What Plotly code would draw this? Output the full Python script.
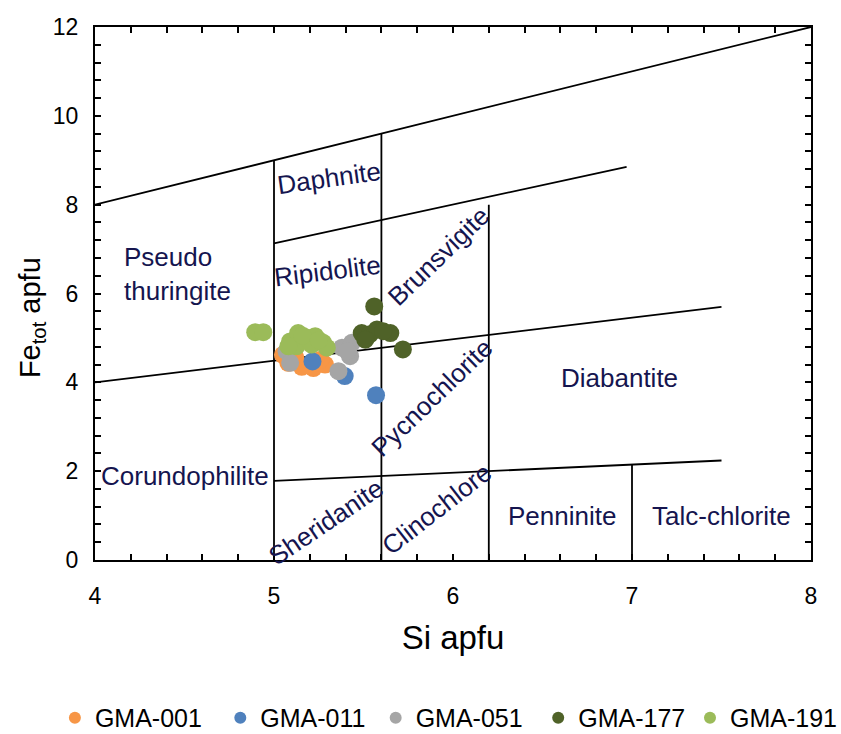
import plotly.graph_objects as go

# ---- sample data (Si apfu, Fe_tot apfu) ----
gma001_si = [5.05, 5.08, 5.155, 5.22, 5.285, 5.26, 5.12]
gma001_fe = [4.62, 4.44, 4.35, 4.32, 4.40, 4.51, 4.55]

gma011_si = [5.215, 5.395, 5.57]
gma011_fe = [4.47, 4.14, 3.71]

gma051_si = [5.07, 5.09, 5.36, 5.38, 5.435, 5.425, 5.41]
gma051_fe = [4.70, 4.44, 4.25, 4.78, 4.89, 4.59, 4.70]

gma177_si = [5.56, 5.49, 5.535, 5.575, 5.65, 5.51, 5.72, 5.61]
gma177_fe = [5.71, 5.11, 5.08, 5.19, 5.11, 4.96, 4.74, 5.15]

gma191_si = [4.895, 4.94, 5.09, 5.135, 5.185, 5.23, 5.275, 5.125, 5.21, 5.295, 5.08, 5.16, 5.25]
gma191_fe = [5.13, 5.13, 4.92, 5.11, 5.00, 5.04, 4.89, 4.81, 4.85, 4.78, 4.81, 5.05, 4.95]

series_names = ["GMA-001", "GMA-011", "GMA-051", "GMA-177", "GMA-191"]
series_x = [gma001_si, gma011_si, gma051_si, gma177_si, gma191_si]
series_y = [gma001_fe, gma011_fe, gma051_fe, gma177_fe, gma191_fe]
series_colors = ["#f79646", "#4f81bd", "#a5a5a5", "#4f6228", "#9bbb59"]

# ---- classification diagram boundaries ----
boundary_x = [[4, 8], [5, 6.97], [4, 7.5], [5, 7.5], [5, 5], [5.6, 5.6], [6.2, 6.2], [7.0, 7.0]]
boundary_y = [[8, 12], [7.13, 8.85], [4, 5.7], [1.78, 2.24], [0, 9], [0, 9.6], [0, 8.0], [0, 2.15]]

# ---- field labels ----
label_text = ["Daphnite", "Pseudo<br>thuringite", "Ripidolite", "Brunsvigite", "Pycnochlorite",
              "Diabantite", "Corundophilite", "Sheridanite", "Clinochlore", "Penninite", "Talc-chlorite"]
label_x = [5.31, 4.46, 5.30, 5.92, 5.88, 6.93, 4.50, 5.29, 5.91, 6.61, 7.5]
label_y = [8.6, 6.45, 6.5, 6.85, 3.65, 4.1, 1.89, 0.86, 1.14, 0.99, 0.99]
label_angle = [-8, 0, -7, -44, -44, 0, 0, -34, -38, 0, 0]

# legend positions (paper x of each legend's left edge)
legend_x = [-0.056, 0.175, 0.392, 0.619, 0.831]

FONT = "Liberation Sans, Arial"

fig = go.Figure()

for bx, by in zip(boundary_x, boundary_y):
    fig.add_trace(go.Scatter(x=bx, y=by, mode="lines", line=dict(color="black", width=1.8),
                             showlegend=False, hoverinfo="skip"))

legend_ids = ["legend", "legend2", "legend3", "legend4", "legend5"]
for name, xs, ys, c, lid in zip(series_names, series_x, series_y, series_colors, legend_ids):
    fig.add_trace(go.Scatter(x=xs, y=ys, mode="markers", name=name, legend=lid,
                             marker=dict(color=c, size=18, line=dict(width=0))))

for t, x, y, a in zip(label_text, label_x, label_y, label_angle):
    fig.add_annotation(x=x, y=y, text=t, textangle=a, showarrow=False, align="left",
                       font=dict(family=FONT, size=26, color="#15154f"))

axis_common = dict(showgrid=False, zeroline=False, showline=True, linecolor="black", linewidth=2,
                   mirror="ticks", ticks="inside", ticklen=6, tickwidth=1.5, tickcolor="black",
                   automargin=False,
                   tickfont=dict(family=FONT, size=23, color="black"))

fig.update_xaxes(range=[4, 8], dtick=1, tick0=4, ticklabelstandoff=14,
                 minor=dict(dtick=0.2, ticks="inside", ticklen=6, tickwidth=1.5, tickcolor="black"),
                 title=dict(text="Si apfu", font=dict(family=FONT, size=33, color="black"), standoff=18),
                 **axis_common)
fig.update_yaxes(range=[0, 12], dtick=2, tick0=0, ticklabelstandoff=10,
                 minor=dict(dtick=0.4, ticks="inside", ticklen=6, tickwidth=1.5, tickcolor="black"),
                 title=dict(text="Fe<sub>tot</sub> apfu&nbsp;&nbsp;&nbsp;&nbsp;&nbsp;&nbsp;",
                            font=dict(family=FONT, size=29, color="black"), standoff=4),
                 **axis_common)

legend_style = dict(orientation="h", y=-0.2964, yanchor="middle", xanchor="left",
                    font=dict(family=FONT, size=25, color="black"),
                    itemsizing="constant", itemwidth=30, bgcolor="rgba(0,0,0,0)")
fig.update_layout(
    width=841, height=734,
    margin=dict(l=95, r=30, t=27, b=174, autoexpand=False),
    plot_bgcolor="white", paper_bgcolor="white",
    legend=dict(x=legend_x[0], **legend_style),
    legend2=dict(x=legend_x[1], **legend_style),
    legend3=dict(x=legend_x[2], **legend_style),
    legend4=dict(x=legend_x[3], **legend_style),
    legend5=dict(x=legend_x[4], **legend_style),
)

fig.write_html("out.html", config={"displayModeBar": False},
               post_script="document.body.style.margin='0px';")
